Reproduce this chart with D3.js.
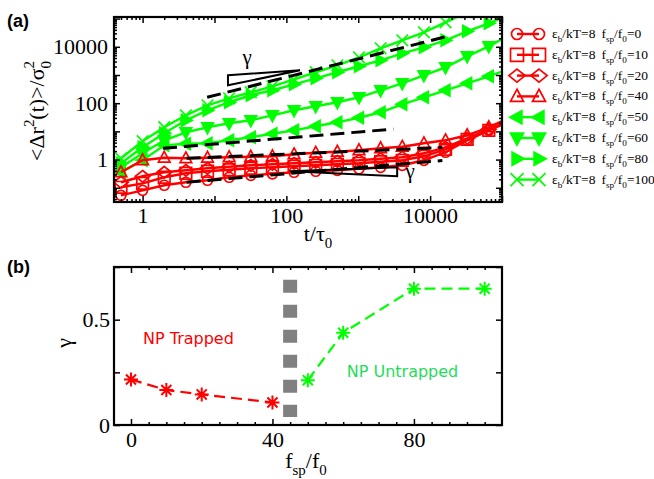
<!DOCTYPE html>
<html>
<head>
<meta charset="utf-8">
<script src="https://cdn.jsdelivr.net/npm/d3@7"></script>
<style>
body { margin: 0; background: #fff; }
svg { display: block; }
</style>
</head>
<body>
<div id="chart"></div>
<script>
// ---- data ----
// lag times t/tau0 shared by all MSD curves
var times = [0.5, 1, 2, 4, 8, 16, 32, 64, 128, 256, 512, 1024, 2048, 4096, 8192, 16384, 32768, 65536, 131072];

// <dr^2(t)>/sigma0^2, one array per f_sp/f_0
var msd_f0   = [0.054, 0.081, 0.123, 0.157, 0.185, 0.236, 0.277, 0.313, 0.355, 0.385, 0.417, 0.472, 0.533, 0.628, 0.944, 1.82, 4.83, 10.9, 24.8];
var msd_f10  = [0.104, 0.144, 0.236, 0.327, 0.385, 0.435, 0.491, 0.533, 0.578, 0.628, 0.681, 0.739, 0.836, 0.944, 1.31, 2.32, 5.25, 10.9, 22.8];
var msd_f20  = [0.157, 0.256, 0.355, 0.417, 0.491, 0.556, 0.628, 0.681, 0.739, 0.802, 0.871, 0.944, 1.07, 1.21, 1.67, 2.73, 5.69, 11.9, 24.8];
var msd_f40  = [0.355, 0.944, 1.16, 1.11, 1.16, 1.21, 1.26, 1.31, 1.54, 1.74, 1.89, 2.14, 2.52, 2.84, 3.78, 4.83, 7.27, 14.0, 31.6];
var msd_f50  = [0.355, 0.944, 3.21, 3.63, 3.78, 4.83, 6.18, 8.22, 10.9, 15.2, 21.0, 30.4, 47.6, 91.4, 162, 287, 508, 900, 1730];
var msd_f60  = [0.533, 1.67, 4.83, 9.29, 14.0, 19.4, 24.8, 37.2, 56.0, 77.6, 108, 162, 287, 508, 975, 1875, 4600, 10400, 27700];
var msd_f80  = [0.739, 2.73, 8.57, 24.8, 56.0, 108, 191, 287, 468, 764, 1250, 2040, 3320, 5890, 9600, 17000, 35500, 68100, 142000];
var msd_f100 = [1.11, 4.46, 14.0, 37.2, 84.3, 149, 244, 397, 704, 1250, 2210, 4240, 8850, 17000, 32700, 73900, 167000, 379000];

var seriesFsp = [0, 10, 20, 40, 50, 60, 80, 100];
var seriesMarker = ["circle", "square", "diamond", "up", "left", "down", "right", "cross"];
var seriesData = [msd_f0, msd_f10, msd_f20, msd_f40, msd_f50, msd_f60, msd_f80, msd_f100];

// power-law fits drawn as dashed lines: start time, end time, value at start, exponent
var fitT0 = [7.9, 1.92, 4.1, 4.1];
var fitT1 = [16200, 3090, 14800, 14800];
var fitY0 = [162, 2.5, 1.11, 0.158];
var fitGamma = [0.647, 0.213, 0.107, 0.216];

// slope triangles (t, msd) and their labels
var triUpper = [[15.4, 977], [155, 1470], [15.4, 430]];
var triLower = [[112, 0.385], [3480, 0.535], [3480, 0.256]];
var triLabels = [[28.4, 2400], [5280, 0.217]];

// panel (b): exponent gamma vs f_sp/f_0
var fspTrapped = [0, 10, 20, 40];
var gammaTrapped = [0.216, 0.166, 0.145, 0.107];
var fspUntrapped = [50, 60, 80, 100];
var gammaUntrapped = [0.213, 0.438, 0.647, 0.647];
var fspCritical = 45;

var xTickLabelsA = [1, 100, 10000];
var yTickLabelsA = [1, 100, 10000];
var xTickLabelsB = [0, 40, 80];
var yTickLabelsB = [0, 0.5];

// ---- layout ----
var width = 654, height = 479;
var pa = {left: 114, right: 502, top: 17, bottom: 202};
var pb = {left: 114, right: 502, top: 267, bottom: 425};
var RED = "#ff0000", GREEN = "#00ff00";
var serif = "'Liberation Serif', 'Times New Roman', serif";

var svg = d3.select("#chart").append("svg")
    .attr("width", width)
    .attr("height", height);

var x = d3.scaleLog().domain([0.4, 1e5]).range([pa.left, pa.right]);
var y = d3.scaleLog().domain([0.0313, 1.14e5]).range([pa.bottom, pa.top]);
var xb = d3.scaleLinear().domain([-4.8, 104.9]).range([pb.left, pb.right]);
var yb = d3.scaleLinear().domain([0, 0.75]).range([pb.bottom, pb.top]);

// marker shapes, s = half size
function markerPath(type, s) {
    switch (type) {
        case "circle": return "M" + (-s) + ",0A" + s + "," + s + " 0 1,0 " + s + ",0A" + s + "," + s + " 0 1,0 " + (-s) + ",0Z";
        case "square": return "M" + (-s) + "," + (-s) + "H" + s + "V" + s + "H" + (-s) + "Z";
        case "diamond": return "M0," + (-s) + "L" + (1.25 * s) + ",0L0," + s + "L" + (-1.25 * s) + ",0Z";
        case "up": return "M0," + (-1.1 * s) + "L" + s + "," + (0.75 * s) + "L" + (-s) + "," + (0.75 * s) + "Z";
        case "down": return "M0," + (1.1 * s) + "L" + s + "," + (-0.75 * s) + "L" + (-s) + "," + (-0.75 * s) + "Z";
        case "left": return "M" + (-1.1 * s) + ",0L" + (0.75 * s) + "," + (-s) + "L" + (0.75 * s) + "," + s + "Z";
        case "right": return "M" + (1.1 * s) + ",0L" + (-0.75 * s) + "," + (-s) + "L" + (-0.75 * s) + "," + s + "Z";
        case "cross": return "M" + (-s) + "," + (-s) + "L" + s + "," + s + "M" + (-s) + "," + s + "L" + s + "," + (-s);
        case "star":
            var d = s * 0.72;
            return "M" + (-s) + ",0H" + s + "M0," + (-s) + "V" + s +
                "M" + (-d) + "," + (-d) + "L" + d + "," + d + "M" + (-d) + "," + d + "L" + d + "," + (-d);
    }
}
function markerStyle(sel, type, color) {
    var filled = (type == "left" || type == "right" || type == "down");
    sel.attr("fill", filled ? color : "none")
        .attr("stroke", color)
        .attr("stroke-width", 1.7)
        .attr("stroke-linejoin", "miter");
}

// text with sub/superscripts
function rich(text, parts, fs) {
    var cur = 0;
    parts.forEach(function (p) {
        var target = p[1] == "sub" ? 0.3 * fs : (p[1] == "sup" ? -0.45 * fs : 0);
        var ts = text.append("tspan").attr("dy", target - cur).text(p[0]);
        if (p[1]) ts.attr("font-size", fs * 0.68);
        if (p[2]) ts.attr("dx", p[2]);
        cur = target;
    });
}

// ================= panel (a) =================
svg.append("clipPath").attr("id", "clipA")
    .append("rect")
    .attr("x", pa.left).attr("y", pa.top)
    .attr("width", pa.right - pa.left).attr("height", pa.bottom - pa.top);

var plotA = svg.append("g").attr("clip-path", "url(#clipA)");

var line = d3.line()
    .x(function (d) { return x(d[0]); })
    .y(function (d) { return y(d[1]); });

// green first, red on top
var order = [4, 5, 6, 7, 0, 1, 2, 3];
order.forEach(function (i) {
    var color = seriesFsp[i] >= 50 ? GREEN : RED;
    var pts = seriesData[i].map(function (v, k) { return [times[k], v]; });
    var g = plotA.append("g");
    g.append("path")
        .datum(pts)
        .attr("fill", "none")
        .attr("stroke", color)
        .attr("stroke-width", 2.4)
        .attr("d", line);
    g.selectAll("path.mk")
        .data(pts)
        .enter().append("path")
        .attr("class", "mk")
        .attr("transform", function (d) { return "translate(" + x(d[0]) + "," + y(d[1]) + ")"; })
        .attr("d", markerPath(seriesMarker[i], seriesMarker[i] == "circle" ? 5 : 5.8))
        .call(markerStyle, seriesMarker[i], color);
});

// dashed power-law fits
fitGamma.forEach(function (gm, i) {
    var t0 = fitT0[i], t1 = fitT1[i];
    var y1 = fitY0[i] * Math.pow(t1 / t0, gm);
    plotA.append("line")
        .attr("x1", x(t0)).attr("y1", y(fitY0[i]))
        .attr("x2", x(t1)).attr("y2", y(y1))
        .attr("stroke", "#000")
        .attr("stroke-width", 3)
        .attr("stroke-dasharray", "14,7");
});

// slope triangles
[triUpper, triLower].forEach(function (tri) {
    plotA.append("path")
        .attr("d", line(tri) + "Z")
        .attr("fill", "none")
        .attr("stroke", "#000")
        .attr("stroke-width", 2);
});
triLabels.forEach(function (p) {
    svg.append("text")
        .attr("x", x(p[0])).attr("y", y(p[1]))
        .attr("text-anchor", "middle")
        .attr("font-family", serif)
        .attr("font-size", 21)
        .text("γ");
});

// log ticks for panel (a)
function logTicks(dom) {
    var out = [];
    for (var e = Math.floor(Math.log10(dom[0])); e <= Math.ceil(Math.log10(dom[1])); e++) {
        for (var k = 1; k < 10; k++) {
            var v = k * Math.pow(10, e);
            if (v >= dom[0] && v <= dom[1]) out.push(v);
        }
    }
    return out;
}
function isDecade(v) {
    var l = Math.log10(v);
    return Math.abs(l - Math.round(l)) < 1e-9;
}
function labelFmt(list) {
    return function (d) {
        return list.some(function (v) { return Math.abs(v - d) < 1e-9 * Math.max(1, v); }) ? String(d) : "";
    };
}

function finishAxis(g, horiz, lenFn) {
    g.select(".domain").remove();
    g.attr("font-family", serif).attr("font-size", 22);
    g.selectAll(".tick line")
        .attr("stroke", "#000")
        .attr("stroke-width", 1.5)
        .attr(horiz ? "y2" : "x2", function (d) { return lenFn(d); });
    g.selectAll(".tick text").attr("fill", "#000");
}

var xtA = logTicks(x.domain()), ytA = logTicks(y.domain());

svg.append("g")
    .attr("transform", "translate(0," + pa.bottom + ")")
    .call(d3.axisBottom(x).tickValues(xtA).tickSize(-6).tickPadding(5).tickFormat(labelFmt(xTickLabelsA)))
    .call(finishAxis, true, function (d) { return isDecade(d) ? -6 : -3; });
svg.append("g")
    .attr("transform", "translate(0," + pa.top + ")")
    .call(d3.axisTop(x).tickValues(xtA).tickSize(-6).tickFormat(""))
    .call(finishAxis, true, function (d) { return isDecade(d) ? 6 : 3; });
svg.append("g")
    .attr("transform", "translate(" + pa.left + ",0)")
    .call(d3.axisLeft(y).tickValues(ytA).tickSize(-6).tickPadding(6).tickFormat(labelFmt(yTickLabelsA)))
    .call(finishAxis, false, function (d) { return isDecade(d) ? 6 : 3; });
svg.append("g")
    .attr("transform", "translate(" + pa.right + ",0)")
    .call(d3.axisRight(y).tickValues(ytA).tickSize(-6).tickFormat(""))
    .call(finishAxis, false, function (d) { return isDecade(d) ? -6 : -3; });

svg.append("rect")
    .attr("x", pa.left).attr("y", pa.top)
    .attr("width", pa.right - pa.left).attr("height", pa.bottom - pa.top)
    .attr("fill", "none").attr("stroke", "#000").attr("stroke-width", 2.2);

// axis titles (a)
var ylabA = svg.append("text")
    .attr("transform", "translate(44," + 111 + ")rotate(-90)")
    .attr("text-anchor", "middle")
    .attr("font-family", serif)
    .attr("font-size", 22);
rich(ylabA, [["<Δr", ""], ["2", "sup"], ["(t)>/σ", ""], ["0", "sub"], ["2", "sup", -7.5]], 22);

var xlabA = svg.append("text")
    .attr("x", 318).attr("y", 241)
    .attr("text-anchor", "middle")
    .attr("font-family", serif)
    .attr("font-size", 22);
rich(xlabA, [["t/τ", ""], ["0", "sub"]], 22);

svg.append("text")
    .attr("x", 7).attr("y", 27)
    .attr("font-family", "'Liberation Sans', Arial, sans-serif")
    .attr("font-weight", "bold")
    .attr("font-size", 18)
    .text("(a)");

// legend
var legend = svg.append("g");
seriesFsp.forEach(function (f, i) {
    var color = f >= 50 ? GREEN : RED;
    var ly = 34 + i * 20.8;
    var row = legend.append("g").attr("transform", "translate(0," + ly + ")");
    row.append("line")
        .attr("x1", 517).attr("x2", 539)
        .attr("stroke", color).attr("stroke-width", 2.4);
    [517, 539].forEach(function (mx) {
        row.append("path")
            .attr("transform", "translate(" + mx + ",0)")
            .attr("d", markerPath(seriesMarker[i], seriesMarker[i] == "circle" ? 5.5 : 6.5))
            .call(markerStyle, seriesMarker[i], color);
    });
    var t = row.append("text")
        .attr("x", 552).attr("y", 4)
        .attr("font-family", serif)
        .attr("font-size", 13.5);
    rich(t, [["ε", ""], ["b", "sub"], ["/kT=8", ""], ["f", "", 6], ["sp", "sub"], ["/f", ""], ["0", "sub"], ["=" + f, ""]], 13.5);
});

// ================= panel (b) =================
var plotB = svg.append("g");

// critical f_sp separating trapped / untrapped
plotB.append("line")
    .attr("x1", xb(fspCritical)).attr("x2", xb(fspCritical))
    .attr("y1", yb(0.69)).attr("y2", yb(0.038))
    .attr("stroke", "#808080")
    .attr("stroke-width", 14)
    .attr("stroke-dasharray", "13,12");

var lineB = d3.line()
    .x(function (d) { return xb(d[0]); })
    .y(function (d) { return yb(d[1]); });

[[fspTrapped, gammaTrapped, RED], [fspUntrapped, gammaUntrapped, GREEN]].forEach(function (s) {
    var pts = s[0].map(function (f, k) { return [f, s[1][k]]; });
    plotB.append("path")
        .datum(pts)
        .attr("fill", "none")
        .attr("stroke", s[2])
        .attr("stroke-width", 2.2)
        .attr("stroke-dasharray", "11,6")
        .attr("d", lineB);
    plotB.selectAll(null)
        .data(pts)
        .enter().append("path")
        .attr("transform", function (d) { return "translate(" + xb(d[0]) + "," + yb(d[1]) + ")"; })
        .attr("d", markerPath("star", 7))
        .attr("fill", "none")
        .attr("stroke", s[2])
        .attr("stroke-width", 2);
});

plotB.append("text")
    .attr("x", xb(3.4)).attr("y", yb(0.383))
    .attr("font-family", "'DejaVu Sans', sans-serif")
    .attr("font-size", 16)
    .attr("fill", RED)
    .text("NP Trapped");
plotB.append("text")
    .attr("x", xb(61)).attr("y", yb(0.227))
    .attr("font-family", "'DejaVu Sans', sans-serif")
    .attr("font-size", 16)
    .attr("fill", "#1fdc5a")
    .text("NP Untrapped");

var xtB = d3.range(0, 105, 5), ytB = [0, 0.25, 0.5, 0.75];
function majB(d) { return xTickLabelsB.indexOf(d) >= 0; }

svg.append("g")
    .attr("transform", "translate(0," + pb.bottom + ")")
    .call(d3.axisBottom(xb).tickValues(xtB).tickSize(-6).tickPadding(6).tickFormat(function (d) { return majB(d) ? d : ""; }))
    .call(finishAxis, true, function (d) { return majB(d) ? -6 : -3; });
svg.append("g")
    .attr("transform", "translate(0," + pb.top + ")")
    .call(d3.axisTop(xb).tickValues(xtB).tickSize(-6).tickFormat(""))
    .call(finishAxis, true, function (d) { return majB(d) ? 6 : 3; });
svg.append("g")
    .attr("transform", "translate(" + pb.left + ",0)")
    .call(d3.axisLeft(yb).tickValues(ytB).tickSize(-6).tickPadding(4)
        .tickFormat(function (d) { return yTickLabelsB.indexOf(d) >= 0 ? String(d) : ""; }))
    .call(finishAxis, false, function () { return 6; });
svg.append("g")
    .attr("transform", "translate(" + pb.right + ",0)")
    .call(d3.axisRight(yb).tickValues(ytB).tickSize(-6).tickFormat(""))
    .call(finishAxis, false, function () { return -6; });

svg.append("rect")
    .attr("x", pb.left).attr("y", pb.top)
    .attr("width", pb.right - pb.left).attr("height", pb.bottom - pb.top)
    .attr("fill", "none").attr("stroke", "#000").attr("stroke-width", 2.2);

svg.append("text")
    .attr("transform", "translate(71,343)rotate(-90)")
    .attr("text-anchor", "middle")
    .attr("font-family", serif)
    .attr("font-size", 22)
    .text("γ");

var xlabB = svg.append("text")
    .attr("x", 306).attr("y", 468)
    .attr("text-anchor", "middle")
    .attr("font-family", serif)
    .attr("font-size", 22);
rich(xlabB, [["f", ""], ["sp", "sub"], ["/f", ""], ["0", "sub"]], 22);

svg.append("text")
    .attr("x", 7).attr("y", 273)
    .attr("font-family", "'Liberation Sans', Arial, sans-serif")
    .attr("font-weight", "bold")
    .attr("font-size", 18)
    .text("(b)");
</script>
</body>
</html>
